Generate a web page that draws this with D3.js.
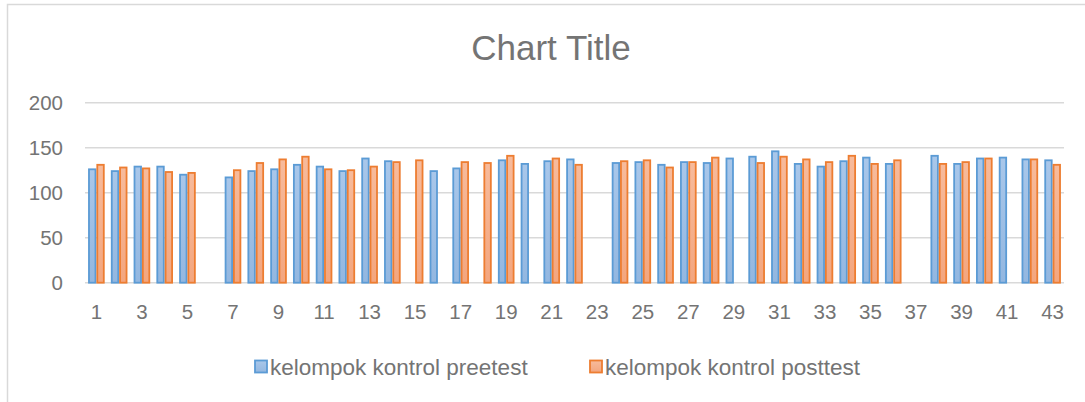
<!DOCTYPE html>
<html>
<head>
<meta charset="utf-8">
<script src="https://cdn.jsdelivr.net/npm/d3@7"></script>
<style>
    body { margin: 0; background: #fff; }
    svg text { font-family: "Liberation Sans", Arial, sans-serif; fill: #747474; }
</style>
</head>
<body>
<svg id="chart" width="1085" height="402"></svg>
<script>
// chart values
var categories = d3.range(1, 44);
var preTest = [127, 125, 130, 130, 121, null, 118, 125, 127, 132,
               130, 125, 139, 136, null, 125, 128, null, 137, 133,
               136, 138, null, 134, 135, 132, 135, 134, 139, 141,
               147, 133, 130, 136, 140, 133, null, 142, 133, 139,
               140, 138, 137];
var postTest = [132, 129, 128, 124, 123, null, 126, 134, 138, 141,
                127, 126, 130, 135, 137, null, 135, 134, 142, null,
                139, 132, null, 136, 137, 129, 135, 140, null, 134,
                141, 138, 135, 142, 133, 137, null, 133, 135, 139,
                null, 138, 132];
var seriesNames = ["kelompok kontrol preetest", "kelompok kontrol posttest"];
var yTicks = [0, 50, 100, 150, 200];

/**
 * draws the clustered column chart
 */
function drawChart()
{
    var svg = d3.select("#chart");
    var left = 85, right = 1064, top = 102.7, bottom = 282.7;
    var textColor = "#747474";

    // outer chart border
    svg.append("rect")
            .attr("x", 7.5).attr("y", 4.5)
            .attr("width", 1100).attr("height", 420)
            .style("fill", "none")
            .style("stroke", "#d9d9d9")
            .style("stroke-width", "1.5px");

    var defs = svg.append("defs");
    var fills = [["#a9c7ea", "#93b7e0"], ["#f7bb9c", "#f3a67f"]];
    fills.forEach(function(f, i) {
        var g = defs.append("linearGradient")
                .attr("id", "grad" + i)
                .attr("x1", 0).attr("y1", 0).attr("x2", 0).attr("y2", 1);
        g.append("stop").attr("offset", "0%").attr("stop-color", f[0]);
        g.append("stop").attr("offset", "100%").attr("stop-color", f[1]);
    });
    var strokes = ["#5b9bd5", "#ed7d31"];

    var x0 = d3.scaleBand()
            .domain(categories)
            .range([left, right])
            .paddingInner(0.27)
            .paddingOuter(0.135);
    var x1 = d3.scaleBand()
            .domain([0, 1])
            .range([0, x0.bandwidth()]);
    var y = d3.scaleLinear()
            .domain([0, 200])
            .range([bottom, top]);

    // gridlines
    svg.append("g")
            .selectAll("line")
            .data(yTicks)
            .enter().append("line")
            .attr("x1", left).attr("x2", right)
            .attr("y1", function(d) { return y(d); })
            .attr("y2", function(d) { return y(d); })
            .style("stroke", "#d9d9d9")
            .style("stroke-width", "1.5px");

    // y axis labels
    var yAxis = svg.append("g")
            .attr("transform", "translate(" + left + ",0)")
            .call(d3.axisLeft(y).tickValues(yTicks).tickSize(0).tickPadding(22));
    yAxis.select(".domain").remove();
    yAxis.selectAll("text").style("font-size", "20.5px").style("fill", textColor);

    // x axis labels, odd ones only
    var xAxis = svg.append("g")
            .attr("transform", "translate(0," + bottom + ")")
            .call(d3.axisBottom(x0).tickSize(0).tickPadding(22)
                    .tickFormat(function(d) { return d % 2 === 1 ? d : ""; }));
    xAxis.select(".domain").remove();
    xAxis.selectAll("text").style("font-size", "20.5px").style("fill", textColor);

    var series = [preTest, postTest];
    series.forEach(function(vals, s) {
        svg.append("g")
                .selectAll("rect")
                .data(categories.filter(function(c, i) { return vals[i] !== null; }))
                .enter().append("rect")
                .attr("x", function(c) { return x0(c) + x1(s) + 0.9; })
                .attr("width", x1.bandwidth() - 1.8)
                .attr("y", function(c) { return y(vals[c - 1]) + 0.9; })
                .attr("height", function(c) { return bottom - y(vals[c - 1]) - 0.9; })
                .style("fill", "url(#grad" + s + ")")
                .style("stroke", strokes[s])
                .style("stroke-width", "1.8px");
    });

    // title
    svg.append("text")
            .attr("x", 551).attr("y", 60)
            .attr("text-anchor", "middle")
            .style("font-size", "35px")
            .style("fill", textColor)
            .text("Chart Title");

    // legend
    var legendX = [255, 590];
    seriesNames.forEach(function(name, s) {
        svg.append("rect")
                .attr("x", legendX[s]).attr("y", 360.5)
                .attr("width", 12).attr("height", 12)
                .style("fill", "url(#grad" + s + ")")
                .style("stroke", strokes[s])
                .style("stroke-width", "1.8px");
        svg.append("text")
                .attr("x", legendX[s] + 15).attr("y", 374.5)
                .style("font-size", "22.5px")
                .style("fill", textColor)
                .text(name);
    });
}

drawChart();
</script>
</body>
</html>
